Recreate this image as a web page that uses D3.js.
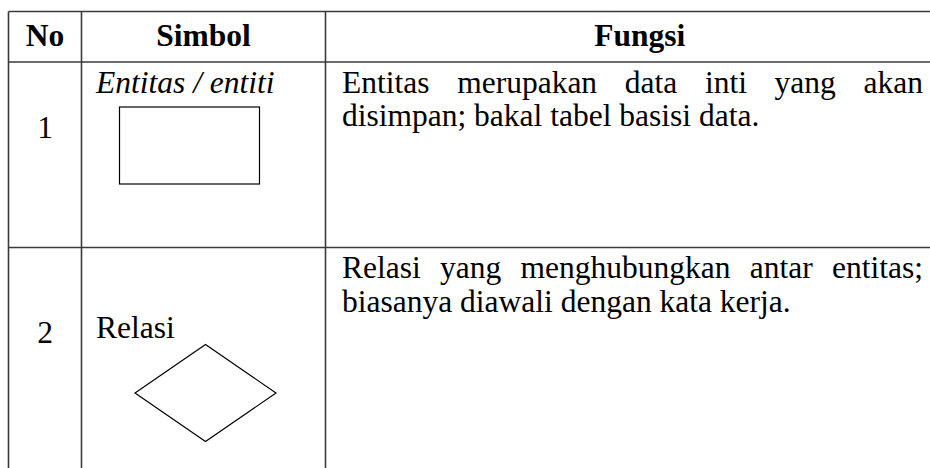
<!DOCTYPE html>
<html>
<head>
<meta charset="utf-8">
<script src="https://cdn.jsdelivr.net/npm/d3@7"></script>
<style>
  html, body { margin: 0; padding: 0; background: #fff; }
  svg { display: block; }
  text { font-family: "Liberation Serif", "Times New Roman", serif; fill: #000; }
</style>
</head>
<body>
<svg id="chart" width="930" height="468"></svg>
<script>
// ---- data ----
const headers = ["No", "Simbol", "Fungsi"];
const rowNumbers = ["1", "2"];
const symbolLabels = ["Entitas / entiti", "Relasi"];
const symbolLabelItalic = [true, false];
const symbolShapes = ["rect", "diamond"];
const fungsiLines = [
  ["Entitas merupakan data inti yang akan", "disimpan; bakal tabel basisi data."],
  ["Relasi yang menghubungkan antar entitas;", "biasanya diawali dengan kata kerja."]
];

// ---- layout ----
const W = 930, H = 468;
const colEdges = [8.5, 81.5, 325.5, 954];
const rowEdges = [11.5, 62, 247.5, 500];
const fontSize = 31.5;
const lineGap = 33.5;
const textLeft = 342, textRight = 923;

const svg = d3.select("#chart");

// column / row positions through d3 scales
const colScale = d3.scaleOrdinal().domain(d3.range(colEdges.length)).range(colEdges);
const rowScale = d3.scaleOrdinal().domain(d3.range(rowEdges.length)).range(rowEdges);
const colCenter = i => (colScale(i) + colScale(i + 1)) / 2;

// grid lines
const gridColor = "#3a3a3a";
svg.append("g").selectAll("line.h")
  .data(d3.range(rowEdges.length - 1))
  .join("line")
  .attr("x1", colScale(0)).attr("x2", colScale(colEdges.length - 1))
  .attr("y1", d => rowScale(d)).attr("y2", d => rowScale(d))
  .attr("stroke", gridColor).attr("stroke-width", 1.6);

svg.append("g").selectAll("line.v")
  .data(d3.range(colEdges.length))
  .join("line")
  .attr("x1", d => colScale(d)).attr("x2", d => colScale(d))
  .attr("y1", rowScale(0)).attr("y2", rowScale(rowEdges.length - 1))
  .attr("stroke", gridColor).attr("stroke-width", 1.6);

// headers
svg.append("g").selectAll("text")
  .data(headers)
  .join("text")
  .attr("x", (d, i) => colCenter(i))
  .attr("y", rowScale(0) + 34)
  .attr("text-anchor", "middle")
  .attr("font-weight", "bold")
  .attr("font-size", fontSize)
  .text(d => d);

// per-row offsets (relative to row top)
const numberOffset = [75.5, 95.5];
const labelOffset = [30.5, 90];

const rows = svg.append("g").selectAll("g.row")
  .data(rowNumbers.map((n, i) => ({
    n, label: symbolLabels[i], italic: symbolLabelItalic[i],
    shape: symbolShapes[i], lines: fungsiLines[i], i
  })))
  .join("g")
  .attr("class", "row")
  .attr("transform", d => `translate(0,${rowScale(d.i + 1)})`);

rows.append("text")
  .attr("x", colCenter(0))
  .attr("y", d => numberOffset[d.i])
  .attr("text-anchor", "middle")
  .attr("font-size", fontSize)
  .text(d => d.n);

rows.append("text")
  .attr("x", colScale(1) + 14.5)
  .attr("y", d => labelOffset[d.i])
  .attr("font-size", fontSize)
  .attr("font-style", d => d.italic ? "italic" : "normal")
  .text(d => d.label);

// symbols
rows.filter(d => d.shape === "rect")
  .append("rect")
  .attr("x", 119.5).attr("y", 45).attr("width", 140).attr("height", 77)
  .attr("fill", "none").attr("stroke", "#000").attr("stroke-width", 1.2);

rows.filter(d => d.shape === "diamond")
  .append("path")
  .attr("d", () => {
    const cx = 205.5, cy = 145.5, hw = 70.5, hh = 48.5;
    return d3.line()([[cx, cy - hh], [cx + hw, cy], [cx, cy + hh], [cx - hw, cy], [cx, cy - hh]]) + "Z";
  })
  .attr("fill", "none").attr("stroke", "#000").attr("stroke-width", 1.2);

// fungsi text: justified first line, left-aligned last line
rows.each(function(d) {
  const g = d3.select(this);
  d.lines.forEach((line, li) => {
    const y = 30.5 + li * lineGap;
    const isLast = li === d.lines.length - 1;
    if (isLast) {
      g.append("text").attr("x", textLeft).attr("y", y)
        .attr("font-size", fontSize).text(line);
      return;
    }
    const words = line.split(" ");
    const nodes = words.map(w => g.append("text").attr("y", y)
      .attr("font-size", fontSize).text(w));
    const widths = nodes.map(n => n.node().getComputedTextLength());
    const total = d3.sum(widths);
    const gap = (textRight - textLeft - total) / (words.length - 1);
    let x = textLeft;
    nodes.forEach((n, k) => { n.attr("x", x); x += widths[k] + gap; });
  });
});
</script>
</body>
</html>
